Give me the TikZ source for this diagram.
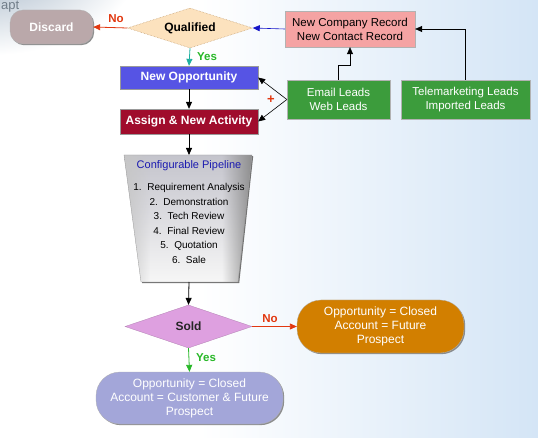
\documentclass[tikz,border=0pt]{standalone}
\usepackage{fontspec}
\setmainfont{Liberation Sans}
\usetikzlibrary{shapes.geometric,arrows.meta,shadows,fadings}
\definecolor{bgblue}{RGB}{212,229,246}
\definecolor{photo}{RGB}{160,178,196}
\definecolor{discardc}{RGB}{186,168,170}
\definecolor{qualc}{RGB}{252,226,190}
\definecolor{qualline}{RGB}{190,150,100}
\definecolor{oppc}{RGB}{86,84,228}
\definecolor{assignc}{RGB}{160,12,44}
\definecolor{leadc}{RGB}{60,156,60}
\definecolor{newcoc}{RGB}{245,163,163}
\definecolor{soldc}{RGB}{222,160,224}
\definecolor{orangec}{RGB}{210,127,0}
\definecolor{lavc}{RGB}{163,166,217}
\definecolor{noc}{RGB}{226,56,16}
\definecolor{yesc}{RGB}{40,184,40}
\definecolor{tealc}{RGB}{30,176,160}
\definecolor{pipetext}{RGB}{26,26,176}
\definecolor{arrblue}{RGB}{20,20,200}
\definecolor{pipetop}{RGB}{196,196,204}
\definecolor{pipebot}{RGB}{246,246,246}
\tikzset{
  shad/.style={drop shadow={shadow xshift=1.2pt,shadow yshift=-1.2pt,fill=black!55,opacity=0.8}},
  boxlab/.style={rectangle,shad,draw=black!40,line width=0.3pt,text=white,font=\fontsize{12}{14}\selectfont\bfseries,inner sep=2pt},
  leadbox/.style={rectangle,shad,draw=black!30,line width=0.3pt,fill=leadc,text=white,font=\fontsize{11.5}{14}\selectfont,align=center,inner sep=2pt},
  pill/.style={rectangle,rounded corners=16pt,shad,draw=black!30,line width=0.3pt,text=white,align=center,inner sep=2pt},
  dia/.style={diamond,aspect=3,inner sep=0pt,font=\fontsize{12}{14}\selectfont\bfseries},
  arr/.style={-{Triangle[length=7pt,width=6pt]},line width=0.8pt,black},
  thinarr/.style={-{Triangle[length=7pt,width=6pt]},line width=0.6pt,black},
  lab/.style={font=\fontsize{11.5}{13}\selectfont\bfseries}
}
\begin{document}
\begin{tikzpicture}[x=1pt,y=-1pt]
\useasboundingbox (0,0) rectangle (538,438);
% background
\fill[white] (0,0) rectangle (200,438);
\shade[left color=white,right color=bgblue] (200,0) rectangle (538,438);
\shade[inner color=photo,outer color=white] (-10,-40) ellipse [x radius=150pt,y radius=95pt];
\node[text=photo!70!black,font=\fontsize{13}{15}\selectfont,anchor=north west,inner sep=0] (apt) at (1,1) {apt};

% nodes
\node[pill,fill=discardc,minimum width=83pt,minimum height=34pt,font=\fontsize{12}{14}\selectfont\bfseries,rounded corners=13pt] (discard) at (51.5,27) {Discard};
\node[dia,fill=qualc,draw=qualline,densely dotted,line width=0.5pt,minimum width=125pt,minimum height=40pt] (qual) at (190,28) {Qualified};
\node[boxlab,fill=oppc,minimum width=138pt,minimum height=23pt] (newopp) at (189,77.5) {New Opportunity};
\node[boxlab,fill=assignc,minimum width=138pt,minimum height=25pt] (assign) at (189,121.5) {Assign \& New Activity};
\node[leadbox,minimum width=103pt,minimum height=39pt] (email) at (338.5,99.5) {Email Leads\\Web Leads};
\node[leadbox,minimum width=129pt,minimum height=39pt] (tele) at (465.5,99.5) {Telemarketing Leads\\Imported Leads};
\node[leadbox,fill=newcoc,text=black,minimum width=130pt,minimum height=36pt] (newco) at (350,29) {New Company Record\\New Contact Record};

% pipeline
\fill[black!55] (125.2,156.2) -- (253.2,156.2) -- (239.2,283.2) -- (142.2,283.2) -- cycle;
\begin{scope}
\clip (124,155) -- (252,155) -- (238,282) -- (141,282) -- cycle;
\shade[top color=pipetop,bottom color=pipebot] (120,155) rectangle (256,282);
\fill[black!45,path fading=west] (222,155) rectangle (253,282);
\fill[black!22,path fading=east] (123,155) rectangle (150,282);
\end{scope}
\draw[black!40,line width=0.3pt] (124,155) -- (252,155) -- (238,282) -- (141,282) -- cycle;
\coordinate (pipetop) at (189,155);
\coordinate (pipebot) at (189,282);
\node[text=pipetext,font=\fontsize{11}{13}\selectfont,inner sep=0] (pipetitle) at (189,166) {Configurable Pipeline};
\node[font=\fontsize{10}{14.6}\selectfont,align=center,inner sep=0,anchor=north] (pipelist) at (189,183) {1.\ \ Requirement Analysis\\2.\ \ Demonstration\\3.\ \ Tech Review\\4.\ \ Final Review\\5.\ \ Quotation\\6.\ \ Sale};

\node[dia,fill=soldc,draw=soldc!80!black,line width=0.3pt,minimum width=127pt,minimum height=43pt,text=black!85] (sold) at (188.5,326.5) {Sold};
\node[pill,fill=orangec,minimum width=167pt,minimum height=53pt,font=\fontsize{12}{14}\selectfont,rounded corners=24pt] (lost) at (380.5,326.5) {Opportunity = Closed\\Account = Future\\Prospect};
\node[pill,fill=lavc,minimum width=187pt,minimum height=52pt,font=\fontsize{12}{14}\selectfont,rounded corners=24pt] (won) at (189.5,398) {Opportunity = Closed\\Account = Customer \& Future\\Prospect};

% connectors
\draw[-{Triangle[length=7pt,width=6pt]},line width=0.8pt,noc] (qual.west) -- (discard.east);
\node[lab,text=noc] (no1) at (116,19) {No};
\draw[-{Triangle[length=7pt,width=6pt]},line width=0.8pt,tealc] (qual.south) -- (newopp.north);
\node[lab,text=yesc] (yes1) at (207,57) {Yes};
\draw[arr] (newopp.south) -- (assign.north);
\draw[-{Triangle[length=7pt,width=6pt]},line width=0.6pt,arrblue] (newco.west) -- (qual.east);
\draw[thinarr] (email.north) -- ++(0,-15) -| (newco.south);
\draw[thinarr] (tele.north) |- (newco.east);
\draw[thinarr] (email.west) -- (newopp.east);
\draw[thinarr] (email.west) -- (assign.east);
\node[text=noc,font=\fontsize{13}{13}\selectfont\bfseries] (plus) at (271,100) {+};
\draw[arr] (assign.south) -- (pipetop);
\draw[arr] (pipebot) -- (sold.north);
\draw[-{Triangle[length=7pt,width=6pt]},line width=0.8pt,noc] (sold.east) -- (lost.west);
\node[lab,text=noc] (no2) at (270,319) {No};
\draw[-{Triangle[length=7pt,width=6pt]},line width=0.8pt,yesc] (sold.south) -- (won.north);
\node[lab,text=yesc] (yes2) at (206,358) {Yes};
\end{tikzpicture}
\end{document}
